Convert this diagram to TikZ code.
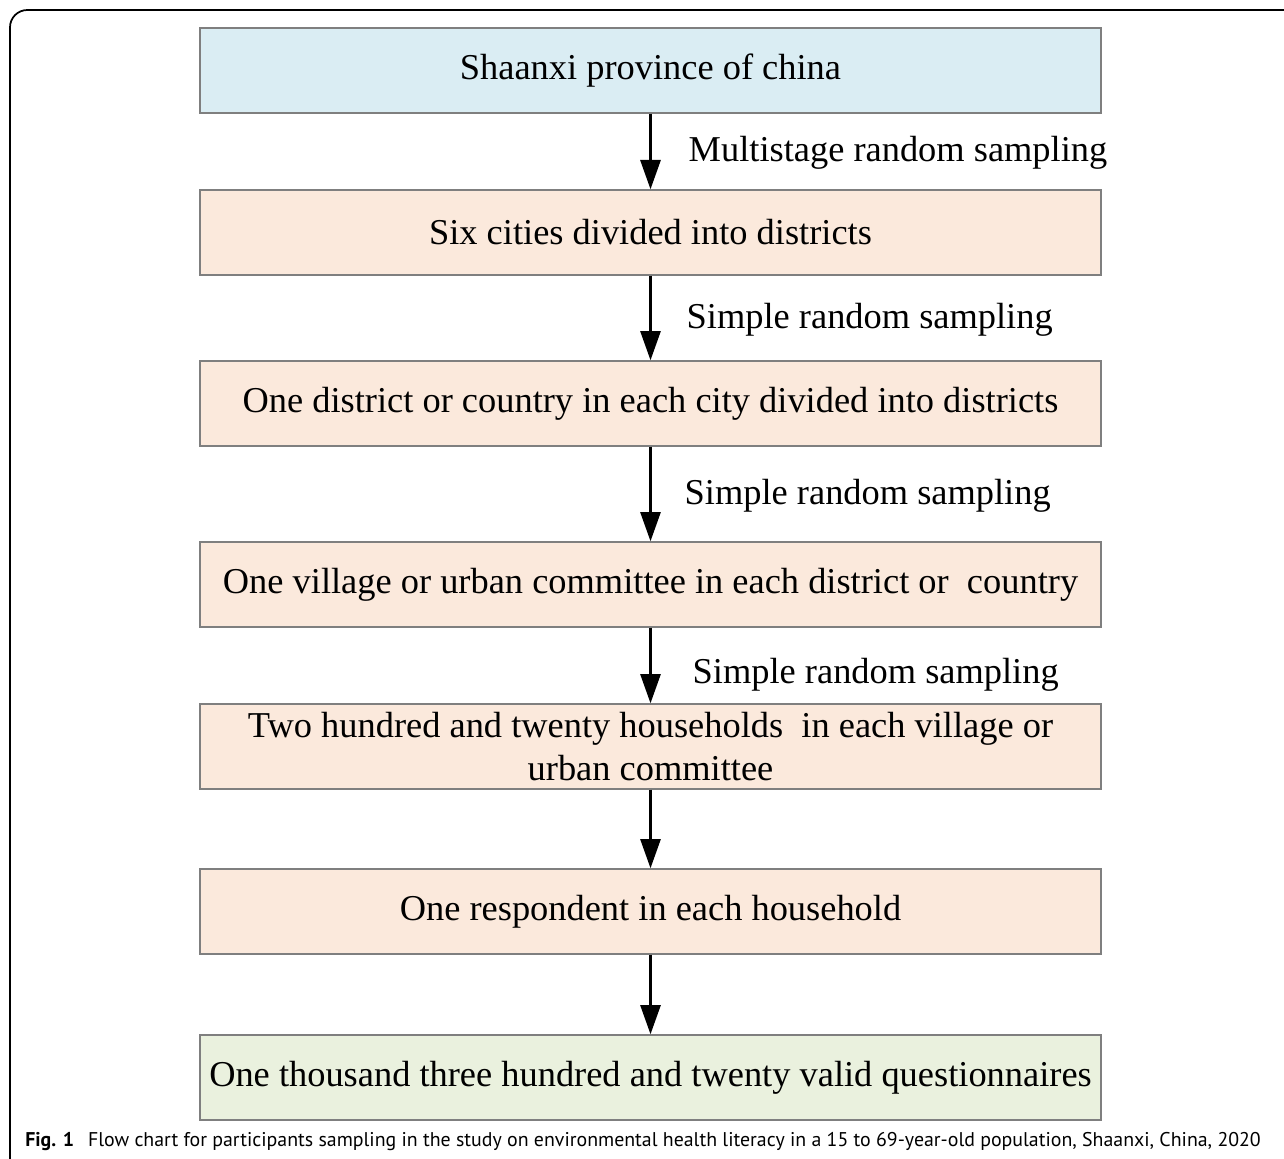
\documentclass[tikz,border=0pt]{standalone}
\usepackage{fontspec}
\setmainfont{Liberation Serif}
\setsansfont{PT Sans}
\usetikzlibrary{arrows.meta}

\definecolor{topblue}{HTML}{DAEDF3}
\definecolor{stagepeach}{HTML}{FBE9DC}
\definecolor{endgreen}{HTML}{EAF1DE}
\definecolor{boxborder}{HTML}{7F7F7F}

\begin{document}
\begin{tikzpicture}[
    x=0.75pt, y=-0.75pt,
    >={Triangle[length=22pt,width=15pt]},
    stagebox/.style={draw=boxborder, line width=1pt, fill=stagepeach,
      minimum width=675.75pt, minimum height=63.75pt, inner sep=0pt,
      align=center, font=\fontsize{27.3}{32.3}\selectfont},
    steplabel/.style={anchor=west, font=\fontsize{27.3}{32}\selectfont},
    flow/.style={->, line width=2.2pt}
  ]

    \useasboundingbox (0,0) rectangle (1284,1159);

    % Frame --------------------------------------------------------
    \draw[line width=1.3pt, rounded corners=13pt]
      (10,1159) -- (10,10) -- (1284,10);

    % Boxes --------------------------------------------------------
    \node[stagebox, fill=topblue] (province) at (650.5,70.5)
      {Shaanxi province of china};
    \node[stagebox] (cities) at (650.5,232.5)
      {Six cities divided into districts};
    \node[stagebox] (district) at (650.5,403.5)
      {One district or country in each city divided into districts};
    \node[stagebox] (village) at (650.5,584.5)
      {One village or urban committee in each district or\ \ country};
    \node[stagebox] (households) at (650.5,746.5)
      {Two hundred and twenty households\ \ in each village or\\urban committee};
    \node[stagebox] (respondent) at (650.5,911.5)
      {One respondent in each household};
    \node[stagebox, fill=endgreen] (valid) at (650.5,1077.5)
      {One thousand three hundred and twenty valid questionnaires};

    % Arrows -------------------------------------------------------
    \draw[flow] (province) -- (cities);
    \draw[flow] (cities) -- (district);
    \draw[flow] (district) -- (village);
    \draw[flow] (village) -- (households);
    \draw[flow] (households) -- (respondent);
    \draw[flow] (respondent) -- (valid);

    % Sampling labels ----------------------------------------------
    \node[steplabel] (multi) at (684,153) {Multistage random sampling};
    \node[steplabel] (simpleA) at (682,320) {Simple random sampling};
    \node[steplabel] (simpleB) at (680,496) {Simple random sampling};
    \node[steplabel] (simpleC) at (688,675) {Simple random sampling};

    % Caption ------------------------------------------------------
    \node[anchor=west, inner sep=0pt, font=\sffamily\fontsize{14.9}{17}\selectfont]
      (caption) at (25,1142)
      {\textbf{Fig. 1}\hspace{0.7em}Flow chart for participants sampling in the study on environmental health literacy in a 15 to 69-year-old population, Shaanxi, China, 2020};

  \end{tikzpicture}
\end{document}
